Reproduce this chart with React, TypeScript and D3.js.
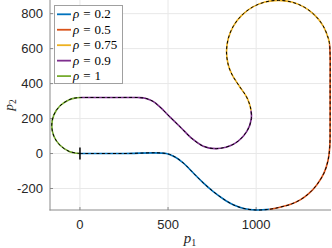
import * as React from "react"
import * as d3 from "d3"

// path pieces for each rho (p1, p2)
const rho02: [number, number][] = [[0, 0], [250, 0], [490, 0], [540, -20], [590, -57], [645, -113], [700, -168], [757, -218], [814, -260], [870, -293], [930, -314], [1000, -323], [1075, -319]]
const rho05: [number, number][] = [[1075, -319], [1135, -307], [1192, -292], [1250, -265], [1300, -228], [1345, -178], [1385, -112], [1408, -40], [1418, 40], [1420, 160], [1420, 360], [1420, 560], [1417, 625]]
const rho075: [number, number][] = [[1417, 625], [1410, 658], [1381, 729], [1334, 790], [1273, 837], [1202, 866], [1126, 876], [1050, 866], [979, 837], [918, 790], [871, 729], [842, 658], [832, 582], [842, 506], [865, 448], [905, 385], [945, 325], [965, 275], [971, 245]]
const rho09: [number, number][] = [[971, 245], [973, 200], [948, 128], [875, 55], [775, 28], [700, 42], [634, 87], [575, 146], [515, 205], [455, 265], [415, 298], [375, 315], [330, 320], [170, 320], [5, 320]]
const rho1: [number, number][] = [[5, 320], [-30, 317], [-61, 308], [-113, 273], [-148, 221], [-160, 160], [-148, 99], [-113, 47], [-61, 12], [0, 0]]

const rhoLabels = ["0.2", "0.5", "0.75", "0.9", "1"]
const rhoSegments = [rho02, rho05, rho075, rho09, rho1]
const colors = ["#0072BD", "#D95319", "#EDB120", "#7E2F8E", "#77AC30"]

const xTicks = [0, 500, 1000]
const yTicks = [-200, 0, 200, 400, 600, 800]

export default function App() {
    const width = 332
    const height = 248

    const x = d3.scaleLinear().domain([-170, 1425]).range([50, 331])
    const y = d3.scaleLinear().domain([-323, 878]).range([210, 0])

    const line = d3.line<[number, number]>()
        .x(d => x(d[0]))
        .y(d => y(d[1]))
        .curve(d3.curveCatmullRom.alpha(0.5))

    // reference path = all pieces joined
    const refPath = rhoSegments.reduce((acc: [number, number][], seg, i) => acc.concat(i === 0 ? seg : seg.slice(1)), [])

    const tickFont = "'Liberation Sans', Arial, Helvetica, sans-serif"
    const texFont = "'Liberation Serif', 'Times New Roman', serif"

    return (
        <svg width={width} height={height} style={{ position: "absolute", left: 0, top: 0, background: "#fff" }}>
            {/* grid */}
            {xTicks.map(t => (
                <line key={"gx" + t} x1={x(t)} x2={x(t)} y1={0} y2={210} stroke="#e8e8e8" strokeWidth={1} />
            ))}
            {yTicks.map(t => (
                <line key={"gy" + t} x1={50} x2={331} y1={y(t)} y2={y(t)} stroke="#e8e8e8" strokeWidth={1} />
            ))}

            {/* axes */}
            <line x1={50} x2={50} y1={0} y2={210.5} stroke="#8a8a8a" strokeWidth={1} />
            <line x1={49.5} x2={331} y1={210} y2={210} stroke="#8a8a8a" strokeWidth={1} />
            {xTicks.map(t => (
                <g key={"tx" + t}>
                    <line x1={x(t)} x2={x(t)} y1={210} y2={207} stroke="#8a8a8a" />
                    <text x={x(t)} y={228.5} textAnchor="middle" fontFamily={tickFont} fontSize={13} fill="#262626">{t}</text>
                </g>
            ))}
            {yTicks.map(t => (
                <g key={"ty" + t}>
                    <line x1={50} x2={53} y1={y(t)} y2={y(t)} stroke="#8a8a8a" />
                    <text x={43} y={y(t) + 4.6} textAnchor="end" fontFamily={tickFont} fontSize={13} fill="#262626">{t}</text>
                </g>
            ))}

            {/* coloured pieces */}
            {rhoSegments.map((seg, i) => (
                <path key={"s" + i} d={line(seg) || ""} fill="none" stroke={colors[i]} strokeWidth={1.6} />
            ))}
            {/* dashed reference */}
            <path d={line(refPath) || ""} fill="none" stroke="#000" strokeWidth={1} strokeDasharray="3,2.5" />
            {/* start marker */}
            <line x1={x(0)} x2={x(0)} y1={y(0) - 6} y2={y(0) + 6} stroke="#000" strokeWidth={1.5} />

            {/* axis labels */}
            <text x={190} y={243} textAnchor="middle" fontFamily={texFont} fontStyle="italic" fontSize={15} fill="#262626">
                p<tspan fontStyle="normal" fontSize={10} dy={3}>1</tspan>
            </text>
            <text transform="translate(13,105) rotate(-90)" textAnchor="middle" fontFamily={texFont} fontStyle="italic" fontSize={13.5} fill="#262626">
                p<tspan fontStyle="normal" fontSize={9.5} dy={3}>2</tspan>
            </text>

            {/* legend */}
            <rect x={54.5} y={5.5} width={68} height={78} fill="#fff" stroke="#a0a0a0" strokeWidth={1} />
            {rhoLabels.map((lab, i) => {
                const ly = 14.3 + i * 15.45
                return (
                    <g key={"l" + i}>
                        <line x1={57} x2={71} y1={ly} y2={ly} stroke={colors[i]} strokeWidth={1.8} />
                        <text x={73} y={ly + 4} fontFamily={texFont} fontSize={13} fill="#000">
                            <tspan fontStyle="italic">ρ</tspan>
                            <tspan dx={4}>=</tspan>
                            <tspan dx={4}>{lab}</tspan>
                        </text>
                    </g>
                )
            })}
        </svg>
    )
}
